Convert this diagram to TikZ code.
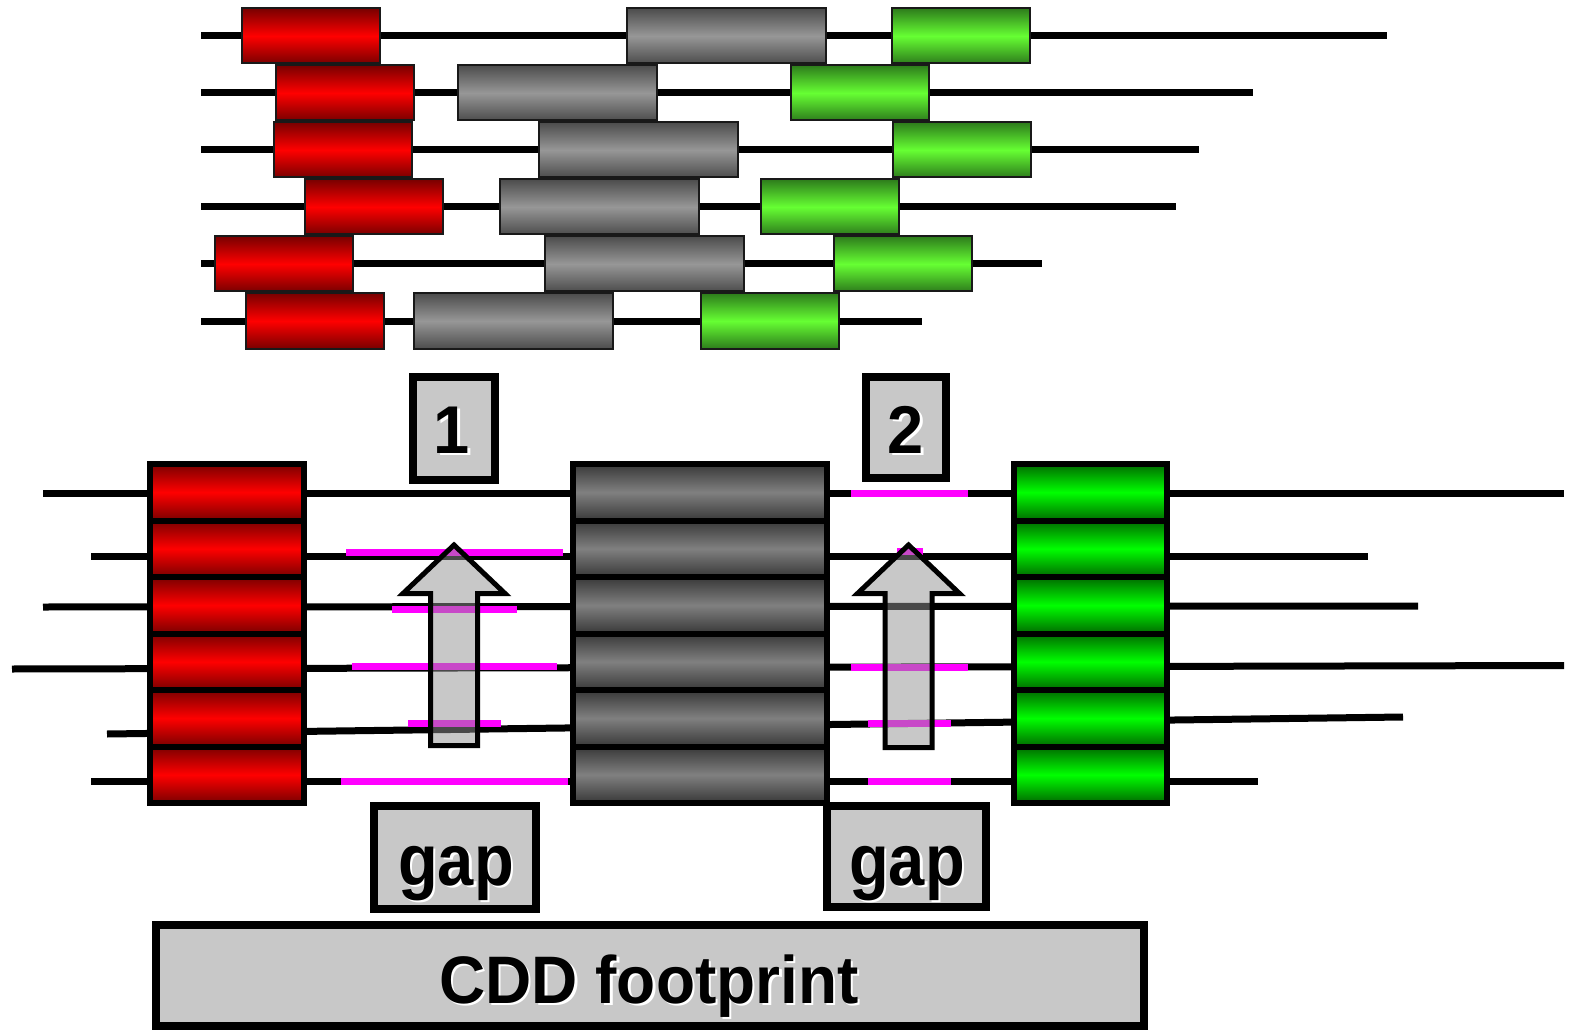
\documentclass[tikz,border=0pt]{standalone}
\usepackage{fontspec}
\usepackage{graphicx}
\setmainfont{Liberation Sans}
\definecolor{rdark}{HTML}{7A0000}
\definecolor{rlight}{HTML}{FF0000}
\definecolor{gdark}{HTML}{4D4D4D}
\definecolor{glight}{HTML}{979797}
\definecolor{ndark}{HTML}{2E7D1C}
\definecolor{nlight}{HTML}{66FF33}
\definecolor{gdarkB}{HTML}{383838}
\definecolor{glightB}{HTML}{808080}
\definecolor{ndarkB}{HTML}{006A00}
\definecolor{nlightB}{HTML}{00FF00}
\definecolor{labelgray}{HTML}{C8C8C8}
\definecolor{arrowgray}{HTML}{929292}
\definecolor{mag}{HTML}{FF00FF}
\newcommand{\shtext}[1]{\leavevmode\rlap{\hspace{2.5pt}\raisebox{-2.5pt}{\textcolor{white}{#1}}}#1}
\tikzset{
  tbox/.style={draw=black!90, line width=2pt, inner sep=0pt, minimum height=55pt},
  tred/.style={tbox, minimum width=138pt, top color=rdark, bottom color=rdark, middle color=rlight},
  tgray/.style={tbox, minimum width=199pt, top color=gdark, bottom color=gdark, middle color=glight},
  tgreen/.style={tbox, minimum width=138pt, top color=ndark, bottom color=ndark, middle color=nlight},
  bbox/.style={draw=black, line width=6pt, inner sep=0pt, minimum height=56.5pt},
  bred/.style={bbox, minimum width=154pt, top color=rdark, bottom color=rdark, middle color=rlight},
  bgray/.style={bbox, minimum width=254pt, top color=gdarkB, bottom color=gdarkB, middle color=glightB},
  bgreen/.style={bbox, minimum width=153pt, top color=ndarkB, bottom color=ndarkB, middle color=nlightB},
  tline/.style={draw=black, line width=7pt},
  magline/.style={draw=mag, line width=7pt},
  uparrow/.style={draw=black, line width=5pt, fill=arrowgray, fill opacity=0.5, draw opacity=1, line join=miter},
  lblbox/.style={draw=black, line width=8pt, fill=labelgray, inner sep=0pt},
  lbltext/.style={inner sep=0pt, anchor=base, font=\fontsize{65}{70}\selectfont\bfseries},
}
\begin{document}
\begin{tikzpicture}[x=1pt,y=-1pt]
\useasboundingbox[fill=white] (0,0) rectangle (1571,1032);

% ---------- top section ----------
\foreach \i/\y/\rx/\gx/\nx/\e in {1/36/311/726.5/961/1387, 2/93/345/557.5/859.5/1253, 3/150/343/638.5/961.5/1199, 4/207/374/599/829.5/1176, 5/264/283.5/644.5/902.5/1042, 6/321/315/513.5/770/922}{
  \node[tred] (tr\i) at (\rx,\y) {};
  \node[tgray] (tg\i) at (\gx,\y) {};
  \node[tgreen] (tn\i) at (\nx,\y) {};
  \coordinate (ts\i) at (201,\y);
  \coordinate (te\i) at (\e,\y);
  \draw[tline] (ts\i) -- (tr\i.west) (tr\i.east) -- (tg\i.west) (tg\i.east) -- (tn\i.west) (tn\i.east) -- (te\i);
}

% ---------- lower section: lines ----------
\coordinate (bs1) at (43,493);   \coordinate (be1) at (1564,493);
\coordinate (bs2) at (91,556.5); \coordinate (be2) at (1368,556.5);
\coordinate (bs3) at (43,607);   \coordinate (be3) at (1418,606);
\coordinate (bs4) at (12,669);   \coordinate (be4) at (1564,665.5);
\coordinate (bs5) at (107,734);  \coordinate (be5) at (1403,717);
\coordinate (bs6) at (91,781);   \coordinate (be6) at (1258,781);
\foreach \i in {1,...,6}{ \draw[tline] (bs\i) -- (be\i); }

% ---------- lower section: boxes ----------
\foreach \i/\y in {1/492.25, 2/548.75, 3/605.25, 4/661.75, 5/718.25, 6/774.75}{
  \node[bred] (br\i) at (227,\y) {};
  \node[bgray] (bg\i) at (700,\y) {};
  \node[bgreen] (bn\i) at (1090.5,\y) {};
}

% ---------- gap marks ----------
\draw[magline] (346,552) -- (563,552);
\draw[magline] (392,609) -- (517,609);
\draw[magline] (352,666) -- (557,666);
\draw[magline] (408,723) -- (501,723);
\draw[magline] (341,781) -- (568,781);
\draw[magline] (851,493) -- (968,493);
\draw[magline] (897,551) -- (923,551);
\draw[magline] (851,667) -- (968,667);
\draw[magline] (868,723) -- (951,723);
\draw[magline] (868,781) -- (951,781);

% ---------- arrows ----------
\draw[uparrow] (454,545) -- (505,593.5) -- (477.5,593.5) -- (477.5,745.5) -- (430.5,745.5) -- (430.5,593.5) -- (403,593.5) -- cycle;
\begin{scope}[shift={(454.5,0)}]
\draw[uparrow] (454,545) -- (505,593.5) -- (477.5,593.5) -- (477.5,747.5) -- (430.5,747.5) -- (430.5,593.5) -- (403,593.5) -- cycle;
\end{scope}

% ---------- labels ----------
\node[lblbox, minimum width=82pt, minimum height=103pt] (one) at (454,428.5) {};
\node[lblbox, minimum width=80pt, minimum height=101pt] (two) at (906,427.5) {};
\node[lblbox, minimum width=162pt, minimum height=103pt] (gapA) at (455,857.5) {};
\node[lblbox, minimum width=159pt, minimum height=101pt] (gapB) at (906.5,856.5) {};
\node[lblbox, minimum width=988pt, minimum height=101pt] (cdd) at (650,975.5) {};

\node[lbltext] (onet) at (452,453) {\scalebox{1}[1.04]{\shtext{1}}};
\node[lbltext] (twot) at (906,453) {\scalebox{1}[1.04]{\shtext{2}}};
\node[lbltext] (gapAt) at (456,885) {\scalebox{1}[1.12]{\shtext{gap}}};
\node[lbltext] (gapBt) at (907,885) {\scalebox{1}[1.12]{\shtext{gap}}};
\node[lbltext, font=\fontsize{64}{70}\selectfont\bfseries] (cddt) at (649,1003) {\scalebox{1}[1.05]{\shtext{CDD footprint}}};
\end{tikzpicture}
\end{document}
